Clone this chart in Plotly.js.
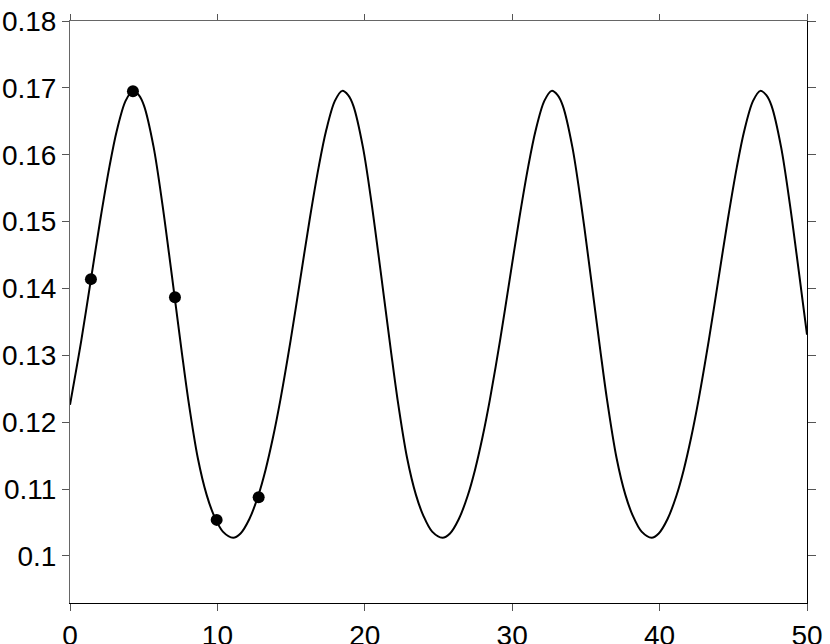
<!DOCTYPE html>
<html>
<head>
<meta charset="utf-8">
<script src="https://cdn.plot.ly/plotly-3.0.1.min.js"></script>
<style>html,body{margin:0;padding:0;background:#fff;}#chart{width:830px;height:644px;}</style>
</head>
<body>
<div id="chart"></div>
<script>
// Fitted curve
const curveX = [0, 0.77, 1.42, 2.07, 2.67, 3.17, 3.77, 4.27,
  4.67, 5.02, 5.67, 6.27, 6.72, 7.12, 7.57, 8.02, 8.67, 9.27, 9.77, 10.37, 11.07,
  11.57, 12.17, 12.77, 13.27, 13.77, 14.27, 14.97, 15.62, 16.27, 16.87, 17.37, 17.97, 18.47,
  18.87, 19.22, 19.87, 20.47, 20.92, 21.32, 21.77, 22.22, 22.87, 23.47, 23.97, 24.57, 25.27,
  25.78, 26.38, 26.98, 27.48, 27.98, 28.48, 29.18, 29.83, 30.48, 31.08, 31.58, 32.18, 32.68,
  33.08, 33.43, 34.08, 34.68, 35.13, 35.53, 35.98, 36.43, 37.08, 37.68, 38.18, 38.78, 39.46,
  39.94, 40.54, 41.14, 41.64, 42.14, 42.64, 43.34, 43.99, 44.64, 45.24, 45.74, 46.34, 46.84,
  47.24, 47.59, 48.24, 48.84, 49.29, 49.69, 50];
const curveY = [0.1226, 0.13227, 0.14137, 0.15047, 0.15815, 0.16355, 0.16805, 0.16955,
  0.16891, 0.16734, 0.16117, 0.15259, 0.14517, 0.13837, 0.13072, 0.12343, 0.11466, 0.10914, 0.10604, 0.10364, 0.10273,
  0.10337, 0.10553, 0.10901, 0.11291, 0.11771, 0.12331, 0.13227, 0.14137, 0.15047, 0.15815, 0.16355, 0.16805, 0.16955,
  0.16891, 0.16734, 0.16117, 0.15259, 0.14517, 0.13837, 0.13072, 0.12343, 0.11466, 0.10914, 0.10604, 0.10364, 0.10273,
  0.10337, 0.10553, 0.10901, 0.11291, 0.11771, 0.12331, 0.13227, 0.14137, 0.15047, 0.15815, 0.16355, 0.16805, 0.16955,
  0.16891, 0.16734, 0.16117, 0.15259, 0.14517, 0.13837, 0.13072, 0.12343, 0.11466, 0.10914, 0.10604, 0.10364, 0.10273,
  0.10337, 0.10553, 0.10901, 0.11291, 0.11771, 0.12331, 0.13227, 0.14137, 0.15047, 0.15815, 0.16355, 0.16805, 0.16955,
  0.16891, 0.16734, 0.16117, 0.15259, 0.14517, 0.13837, 0.1331];
// Observed points
const obsX = [1.42, 4.27, 7.12, 9.95, 12.8];
const obsY = [0.1414, 0.1695, 0.1387, 0.1054, 0.1088];
// Tick labels
const xTicks = [0, 10, 20, 30, 40, 50];
const xTickText = ["0", "10", "20", "30", "40", "50"];
const yTicks = [0.1, 0.11, 0.12, 0.13, 0.14, 0.15, 0.16, 0.17, 0.18];
const yTickText = ["0.1", "0.11", "0.12", "0.13", "0.14", "0.15", "0.16", "0.17", "0.18"];

const xRange = [0, 50];
const yRange = [0.09297, 0.18];
const font = {family: "Liberation Sans, Arial, sans-serif", size: 28, color: "#000"};

const traces = [
  {x: curveX, y: curveY, type: "scatter", mode: "lines", xaxis: "x2", yaxis: "y2",
   line: {color: "#000", width: 2, shape: "spline", smoothing: 0.9}, hoverinfo: "skip", showlegend: false},
  {x: obsX, y: obsY, type: "scatter", mode: "markers", xaxis: "x", yaxis: "y",
   marker: {color: "#000", size: 12}, showlegend: false}
];

const layout = {
  width: 830, height: 644,
  margin: {l: 70, r: 23, t: 21, b: 41, pad: 0},
  paper_bgcolor: "#fff", plot_bgcolor: "#fff",
  font: font,
  showlegend: false,
  xaxis: {range: xRange, tickvals: xTicks, ticktext: xTickText, ticks: "outside", ticklen: 7, tickcolor: "#555",
          showline: true, linecolor: "#000", linewidth: 1, showgrid: false, zeroline: false,
          tickfont: font, anchor: "y", side: "bottom", fixedrange: true},
  yaxis: {range: yRange, tickvals: yTicks, ticktext: yTickText, ticks: "outside", ticklen: 7, tickcolor: "#555",
          showline: true, linecolor: "#666", linewidth: 1, showgrid: false, zeroline: false,
          tickfont: font, anchor: "x", side: "left", fixedrange: true},
  xaxis2: {range: xRange, tickvals: xTicks, ticks: "outside", ticklen: 6, tickcolor: "#555", showticklabels: false,
           showline: true, linecolor: "#666", linewidth: 1, showgrid: false, zeroline: false,
           overlaying: "x", side: "top", anchor: "y2", fixedrange: true},
  yaxis2: {range: yRange, tickvals: yTicks, ticks: "outside", ticklen: 8, tickcolor: "#555", showticklabels: false,
           showline: true, linecolor: "#000", linewidth: 1, showgrid: false, zeroline: false,
           overlaying: "y", side: "right", anchor: "x2", fixedrange: true}
};

Plotly.newPlot("chart", traces, layout, {displayModeBar: false, staticPlot: true});
</script>
</body>
</html>
